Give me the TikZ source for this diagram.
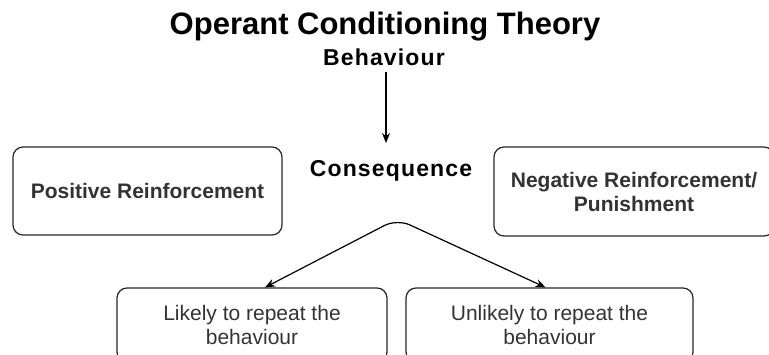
\documentclass[tikz,border=0pt]{standalone}
\usepackage{fontspec}
\setmainfont{Liberation Sans}
\usetikzlibrary{arrows.meta}

\tikzset{
    box/.style={draw=black!85, line width=1.2pt, rounded corners=10pt, inner sep=0pt, align=center, text=black!80, font=\fontsize{21}{24}\selectfont},
    heading/.style={font=\addfontfeatures{LetterSpace=5}\fontsize{23}{26}\selectfont\bfseries, anchor=base, inner sep=0pt}
}

\begin{document}
\begin{tikzpicture}[x=1pt, y=-1pt, >={Stealth[length=10pt, width=8pt]}]
    \useasboundingbox (0,0) rectangle (769,354);
    \node [anchor=base, inner sep=0pt, font=\fontsize{31}{36}\selectfont\bfseries] (title) at (385,34) {Operant Conditioning Theory};
    \node [heading] (behav) at (384,65) {Behaviour};
    \node [heading] (conseq) at (391,176) {Consequence};
    \node [box, minimum width=269pt, minimum height=88pt, font=\fontsize{21}{24}\selectfont\bfseries] (pos) at (147.5,191) {Positive Reinforcement};
    \node [box, minimum width=280pt, minimum height=89pt, font=\fontsize{21}{24}\selectfont\bfseries] (neg) at (634,191.5) {Negative Reinforcement/\\Punishment};
    \node [box, minimum width=270pt, minimum height=74pt] (likely) at (252,325) {Likely to repeat the\\behaviour};
    \node [box, minimum width=287pt, minimum height=74pt] (unlikely) at (549.5,325) {Unlikely to repeat the\\behaviour};
    \coordinate (apex) at (397,219);
    \draw [->, line width=1.2pt] (behav.south) ++(2,7) coordinate (start) -- (start |- 0,143);
    \draw [<->, line width=1.2pt, rounded corners=14pt] ([xshift=13pt]likely.north) -- (apex) -- ([xshift=-4pt]unlikely.north);
\end{tikzpicture}
\end{document}
